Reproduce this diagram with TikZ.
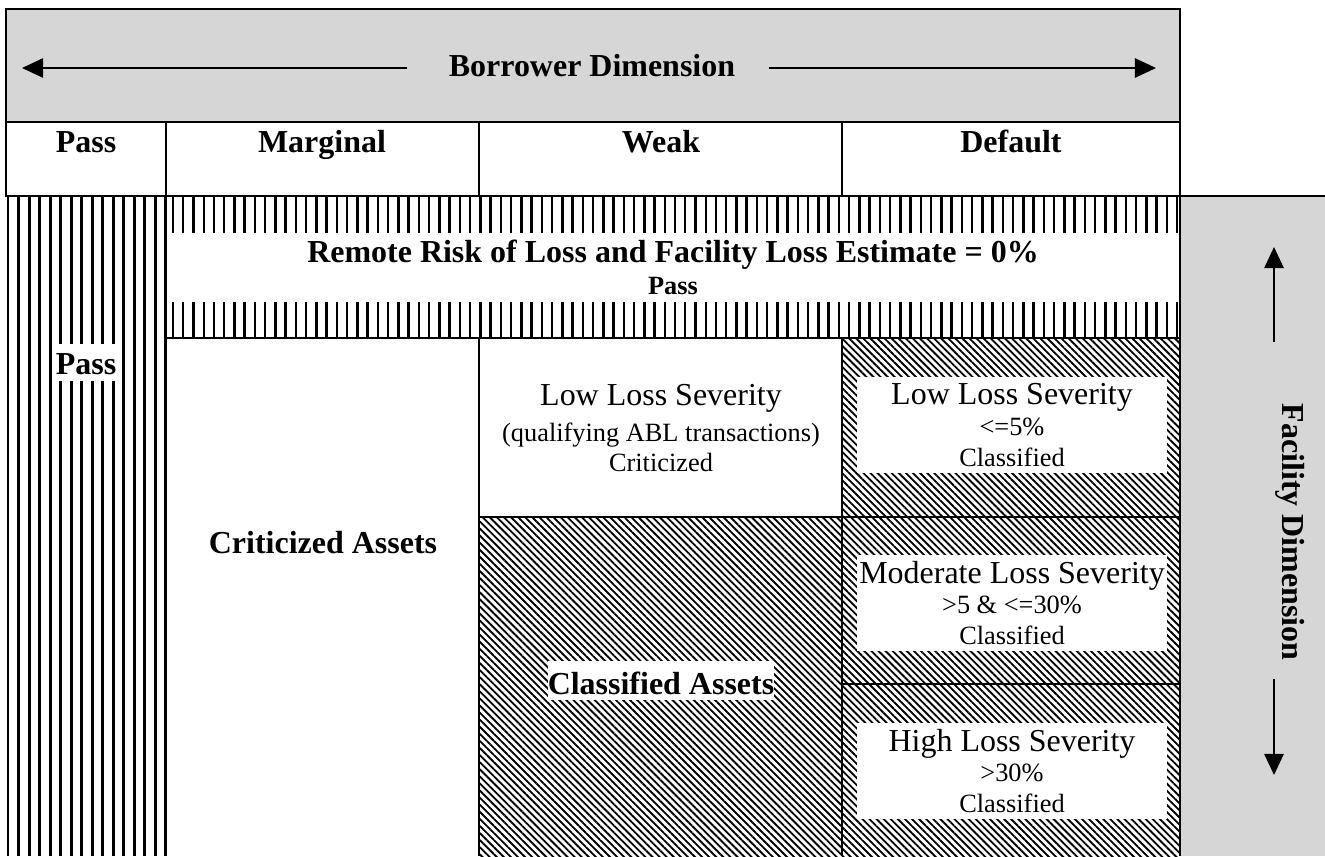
\documentclass[tikz,border=0pt]{standalone}
\usepackage{fontspec}
\setmainfont{Liberation Serif}
\usetikzlibrary{arrows.meta}
\usetikzlibrary{patterns.meta}

\newcommand\bigfont{\fontsize{18.2pt}{21pt}\selectfont}
\newcommand\smallfont{\fontsize{15pt}{17.5pt}\selectfont}

\begin{document}
\begin{tikzpicture}[x=0.02cm, y=-0.02cm,
    grid/.style={line width=0.6pt},
    bgray/.style={fill=black!16},
    hatch/.style={pattern={Lines[angle=-45, distance=2.85pt, line width=1.05pt]}},
    head/.style={font=\bfseries\bigfont, anchor=base, inner sep=0pt},
    cutout/.style={fill=white, inner xsep=0pt, inner ysep=0pt, text height=19pt, text depth=4pt},
    cellbox/.style={fill=white, inner sep=0pt, minimum width=6.2cm, minimum height=1.93cm, align=center, font=\smallfont},
    dimarrow/.style={line width=1pt, -{Triangle[length=12pt, width=11pt]}}]

        \useasboundingbox (0,0) rectangle (1325,856);

        \def\pitch{10.53}
        \def\bandpitch{10.245}

        % borrower dimension band and column heads
        \draw[grid, bgray] (6,9) rectangle (1180,122);
        \draw[grid] (6,122) rectangle (1180,196);
        \draw[grid] (166,122) -- (166,196);
        \draw[grid] (479,122) -- (479,196);
        \draw[grid] (842,122) -- (842,196);

        \node[head] (bdim) at (592,76) {Borrower Dimension};
        \coordinate (bdimLs) at (407,68);
        \coordinate (bdimLe) at (22,68);
        \coordinate (bdimRs) at (769,68);
        \coordinate (bdimRe) at (1156,68);
        \draw[dimarrow] (bdimLs) -- (bdimLe);
        \draw[dimarrow] (bdimRs) -- (bdimRe);

        \node[head] (hpass) at (86,152) {Pass};
        \node[head] (hmarginal) at (322,152) {Marginal};
        \node[head] (hweak) at (661,152) {Weak};
        \node[head] (hdefault) at (1011,152) {Default};

        % facility dimension band
        \fill[bgray] (1180,196) rectangle (1325,856);
        \draw[grid] (1180,196) -- (1325,196);

        % pass column
        \foreach \i in {0,...,15}
            \draw[line width=1.7pt] ({8+\i*\pitch},196) -- ({8+\i*\pitch},856);

        % remote risk band
        \draw[grid] (166,196) rectangle (1180,338);
        \foreach \i in {0,...,98} {
            \draw[line width=1.4pt] ({173+\i*\bandpitch},196) -- ({173+\i*\bandpitch},233);
            \draw[line width=1.4pt] ({173+\i*\bandpitch},302) -- ({173+\i*\bandpitch},338);
        }

        % weak and default cells
        \path[hatch] (479,517) rectangle (842,856);
        \path[hatch] (842,338) rectangle (1180,856);
        \draw[grid] (479,338) -- (479,856);
        \draw[grid] (842,338) -- (842,856);
        \draw[grid] (1180,196) -- (1180,856);
        \draw[grid] (479,517) -- (1180,517);
        \draw[grid] (842,684) -- (1180,684);

        \node[head] (remote) at (673,262) {Remote Risk of Loss and Facility Loss Estimate = 0\%};
        \node[head, font=\bfseries\smallfont] (remotepass) at (673,294) {Pass};

        \node[head, cutout, text height=17pt] (passcol) at (86,374) {Pass};
        \node[head] (critassets) at (323,553) {Criticized Assets};
        \node[head, cutout, text depth=3.5pt] (classassets) at (661,694) {Classified Assets};

        \node[align=center, font=\smallfont] (lowabl) at (661,428) {{\bigfont Low Loss Severity}\\[3pt] (qualifying ABL transactions)\\ Criticized};

        \node[cellbox] (lowsev) at (1012,425) {{\bigfont Low Loss Severity}\\ <=5\%\\ Classified};
        \node[cellbox] (modsev) at (1012,603) {{\bigfont Moderate Loss Severity}\\ >5 \& <=30\%\\ Classified};
        \node[cellbox] (highsev) at (1012,771) {{\bigfont High Loss Severity}\\ >30\%\\ Classified};

        \node[head, rotate=-90] (fdim) at (1282,532) {Facility Dimension};
        \coordinate (fdimUs) at (1274,342);
        \coordinate (fdimUe) at (1274,247);
        \coordinate (fdimDs) at (1274,679);
        \coordinate (fdimDe) at (1274,775);
        \draw[dimarrow] (fdimUs) -- (fdimUe);
        \draw[dimarrow] (fdimDs) -- (fdimDe);

      \end{tikzpicture}
\end{document}
